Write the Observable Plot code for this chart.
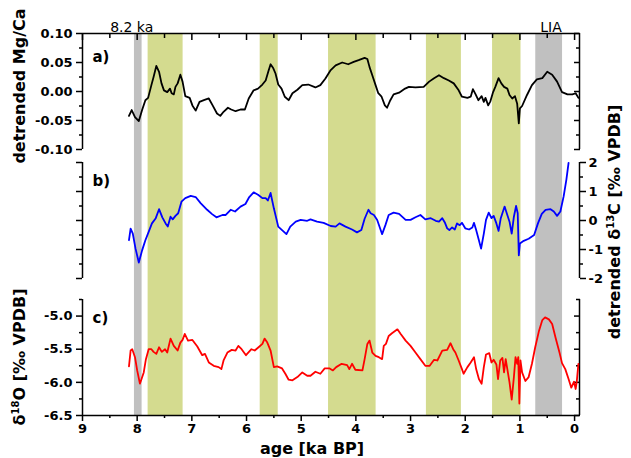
<!DOCTYPE html>
<html><head><meta charset="utf-8">
<script src="https://cdn.jsdelivr.net/npm/d3@7"></script>
<script src="https://cdn.jsdelivr.net/npm/@observablehq/plot@0.6"></script>
<style>
body{margin:0;background:#fff;}
#chart{position:relative;width:631px;height:458px;overflow:hidden;font-family:"DejaVu Sans",sans-serif;color:#000;}
#chart svg{position:absolute;left:0;}
.ttl{position:absolute;font-weight:bold;font-size:16px;white-space:nowrap;line-height:1;}
.rot{transform:translate(-50%,-50%) rotate(-90deg);}
.ttl sup{font-size:10px;vertical-align:6px;line-height:0;}
</style>
</head><body>
<div id="chart">
  <div class="ttl rot" style="left:20px;top:86px;">detrended Mg/Ca</div>
  <div class="ttl rot" style="left:20px;top:357px;">&delta;<sup>18</sup>O [&permil; VPDB]</div>
  <div class="ttl rot" style="left:615px;top:222px;">detrended &delta;<sup>13</sup>C [&permil; VPDB]</div>
  <div class="ttl" style="left:312px;top:441px;transform:translate(-50%,0);">age [ka BP]</div>
</div>
<script>
// ---- data (age in ka BP, value) ----
const mgCa = [
[8.15,-0.042],[8.10,-0.032],[8.04,-0.044],[7.97,-0.051],[7.91,-0.032],[7.85,-0.015],[7.80,-0.011],[7.74,0.011],[7.70,0.025],[7.65,0.044],[7.60,0.034],[7.555,0.014],[7.51,0.002],[7.45,-0.001],[7.40,0.005],[7.37,-0.003],[7.33,-0.005],[7.30,0.008],[7.26,0.014],[7.21,0.029],[7.17,0.017],[7.12,-0.008],[7.04,-0.011],[6.99,-0.024],[6.93,-0.033],[6.86,-0.018],[6.78,-0.015],[6.69,-0.012],[6.62,-0.024],[6.54,-0.038],[6.48,-0.042],[6.42,-0.035],[6.34,-0.028],[6.28,-0.031],[6.20,-0.034],[6.11,-0.031],[6.03,-0.031],[5.96,-0.012],[5.87,0.002],[5.79,0.005],[5.71,0.012],[5.65,0.019],[5.60,0.035],[5.56,0.047],[5.51,0.040],[5.47,0.031],[5.42,0.012],[5.36,0.005],[5.30,-0.009],[5.23,-0.015],[5.16,-0.003],[5.07,0.003],[4.98,0.011],[4.87,0.012],[4.74,0.007],[4.65,0.011],[4.56,0.022],[4.46,0.037],[4.37,0.045],[4.25,0.050],[4.14,0.047],[4.04,0.051],[3.95,0.054],[3.84,0.058],[3.79,0.056],[3.75,0.042],[3.70,0.028],[3.64,0.011],[3.59,-0.003],[3.53,-0.009],[3.47,-0.024],[3.43,-0.028],[3.37,-0.015],[3.31,-0.005],[3.21,-0.002],[3.10,0.005],[3.03,0.008],[2.91,0.007],[2.76,0.008],[2.66,0.017],[2.57,0.023],[2.48,0.028],[2.39,0.023],[2.30,0.019],[2.21,0.014],[2.12,0.002],[2.06,-0.009],[1.96,-0.011],[1.90,-0.009],[1.86,0.004],[1.81,-0.005],[1.76,-0.015],[1.70,-0.008],[1.66,-0.018],[1.63,-0.011],[1.58,-0.024],[1.54,-0.017],[1.49,-0.001],[1.45,0.008],[1.39,0.023],[1.34,0.014],[1.29,0.008],[1.23,0.005],[1.19,-0.006],[1.14,-0.012],[1.09,-0.008],[1.05,-0.021],[1.02,-0.055],[1.00,-0.029],[0.96,-0.025],[0.87,-0.006],[0.78,0.011],[0.69,0.021],[0.59,0.023],[0.50,0.034],[0.41,0.029],[0.32,0.017],[0.23,-0.001],[0.13,-0.005],[0.04,-0.005],[-0.02,-0.003],[-0.07,-0.011]
];
const d13C = [
[8.15,-0.68],[8.12,-0.28],[8.08,-0.45],[8.03,-0.97],[7.97,-1.45],[7.91,-1.03],[7.85,-0.68],[7.79,-0.39],[7.73,-0.10],[7.66,0.08],[7.60,0.39],[7.54,0.11],[7.48,-0.10],[7.44,-0.21],[7.39,0.13],[7.35,0.04],[7.30,0.16],[7.25,0.25],[7.19,0.65],[7.12,0.77],[7.02,0.85],[6.93,0.81],[6.84,0.60],[6.72,0.37],[6.63,0.22],[6.55,0.11],[6.44,0.19],[6.38,0.19],[6.29,0.37],[6.21,0.31],[6.11,0.48],[6.02,0.57],[5.95,0.81],[5.87,0.97],[5.79,0.89],[5.71,0.77],[5.65,0.77],[5.61,0.69],[5.56,0.95],[5.50,0.42],[5.42,-0.21],[5.35,-0.33],[5.27,-0.47],[5.20,-0.21],[5.10,-0.04],[5.01,0.02],[4.89,-0.01],[4.83,0.04],[4.71,-0.04],[4.59,-0.08],[4.46,-0.19],[4.37,-0.21],[4.30,-0.10],[4.19,-0.21],[4.07,-0.31],[3.98,-0.41],[3.90,-0.33],[3.84,0.06],[3.77,0.37],[3.73,0.25],[3.67,0.19],[3.61,0.02],[3.55,-0.31],[3.52,-0.47],[3.46,-0.16],[3.40,0.19],[3.31,0.27],[3.21,0.23],[3.09,0.02],[3.00,0.02],[2.91,0.11],[2.82,0.19],[2.73,0.04],[2.63,0.08],[2.54,-0.01],[2.48,-0.04],[2.42,0.08],[2.37,-0.08],[2.33,-0.27],[2.29,-0.33],[2.24,-0.24],[2.19,-0.31],[2.15,-0.10],[2.10,-0.16],[2.06,-0.08],[2.00,-0.27],[1.93,-0.31],[1.87,-0.24],[1.84,-0.08],[1.80,-0.33],[1.75,-0.68],[1.71,-0.97],[1.66,-0.45],[1.62,0.02],[1.57,0.27],[1.52,0.08],[1.48,0.16],[1.43,-0.10],[1.39,-0.36],[1.35,0.08],[1.31,0.31],[1.28,0.48],[1.23,0.19],[1.19,-0.04],[1.15,-0.45],[1.11,0.13],[1.07,0.50],[1.04,0.25],[1.02,-1.20],[1.00,-0.79],[0.93,-0.70],[0.84,-0.63],[0.74,-0.50],[0.67,-0.10],[0.60,0.23],[0.53,0.37],[0.44,0.39],[0.38,0.31],[0.32,0.16],[0.26,0.31],[0.20,0.83],[0.15,1.41],[0.11,1.99]
];
const d18O = [
[8.15,-5.76],[8.12,-5.52],[8.09,-5.50],[8.04,-5.62],[8.00,-5.82],[7.95,-6.02],[7.92,-5.95],[7.88,-5.85],[7.84,-5.65],[7.79,-5.50],[7.74,-5.50],[7.70,-5.54],[7.65,-5.57],[7.60,-5.47],[7.55,-5.54],[7.49,-5.50],[7.45,-5.55],[7.39,-5.34],[7.33,-5.45],[7.26,-5.52],[7.21,-5.40],[7.17,-5.36],[7.13,-5.27],[7.07,-5.37],[6.99,-5.36],[6.90,-5.46],[6.81,-5.59],[6.76,-5.57],[6.69,-5.70],[6.60,-5.75],[6.51,-5.77],[6.46,-5.80],[6.42,-5.67],[6.35,-5.55],[6.27,-5.51],[6.20,-5.52],[6.15,-5.45],[6.09,-5.50],[6.01,-5.59],[5.91,-5.50],[5.85,-5.52],[5.78,-5.47],[5.71,-5.42],[5.67,-5.34],[5.62,-5.40],[5.56,-5.52],[5.50,-5.77],[5.44,-5.76],[5.35,-5.79],[5.29,-5.87],[5.23,-5.96],[5.16,-5.97],[5.07,-5.92],[4.98,-5.85],[4.89,-5.90],[4.83,-5.90],[4.74,-5.84],[4.65,-5.87],[4.57,-5.79],[4.48,-5.79],[4.42,-5.82],[4.36,-5.77],[4.26,-5.72],[4.16,-5.74],[4.12,-5.80],[4.07,-5.72],[4.01,-5.81],[3.88,-5.82],[3.84,-5.65],[3.79,-5.42],[3.75,-5.37],[3.70,-5.55],[3.64,-5.60],[3.58,-5.62],[3.52,-5.65],[3.49,-5.45],[3.45,-5.42],[3.40,-5.30],[3.34,-5.26],[3.24,-5.20],[3.18,-5.27],[3.09,-5.37],[3.00,-5.45],[2.91,-5.55],[2.82,-5.65],[2.73,-5.75],[2.65,-5.75],[2.57,-5.66],[2.51,-5.67],[2.42,-5.52],[2.33,-5.51],[2.27,-5.41],[2.22,-5.50],[2.18,-5.55],[2.12,-5.67],[2.06,-5.80],[2.03,-5.87],[1.96,-5.77],[1.90,-5.70],[1.84,-5.62],[1.80,-5.80],[1.75,-5.95],[1.70,-6.02],[1.66,-5.77],[1.62,-5.58],[1.56,-5.56],[1.52,-5.70],[1.48,-5.66],[1.43,-5.73],[1.40,-5.95],[1.36,-5.67],[1.32,-5.63],[1.29,-5.85],[1.26,-5.65],[1.23,-5.80],[1.19,-6.00],[1.15,-6.26],[1.11,-5.92],[1.08,-5.62],[1.05,-5.72],[1.03,-5.62],[1.01,-6.32],[0.99,-5.67],[0.96,-5.85],[0.90,-5.98],[0.84,-5.92],[0.78,-5.72],[0.72,-5.47],[0.65,-5.22],[0.59,-5.06],[0.54,-5.02],[0.47,-5.05],[0.41,-5.12],[0.35,-5.32],[0.27,-5.57],[0.23,-5.71],[0.17,-5.80],[0.11,-5.95],[0.06,-6.08],[0.01,-5.99],[-0.02,-6.10],[-0.04,-5.99],[-0.07,-5.72]
];
// shaded intervals (ka BP)
const greenBands = [[7.80,7.16],[5.75,5.42],[4.50,3.63],[2.71,2.07],[1.50,0.98]];
const grayBands = [[8.05,7.91],[0.71,0.22]];
const bandLabels = [{label:"8.2 ka", age:8.10},{label:"LIA", age:0.43}];
const panelLabels = ["a)","b)","c)"];
// axes
const xDomain = [9, -0.09];
const xMajor = [9,8,7,6,5,4,3,2,1,0];
const xMinor = [8.5,7.5,6.5,5.5,4.5,3.5,2.5,1.5,0.5];
const mgDomain = [-0.1, 0.1];
const mgMajor = [0.10,0.05,0.00,-0.05,-0.10];
const mgMinor = [0.075,0.025,-0.025,-0.075];
const cDomain = [-2, 2];
const cMajor = [2,1,0,-1,-2];
const cMinor = [1.5,0.5,-0.5,-1.5];
const oDomain = [-6.5, -4.75];
const oMajor = [-5.0,-5.5,-6.0,-6.5];
const oMinor = [-4.75,-5.25,-5.75,-6.25];

const W = 631, ML = 82, MR = 52;
const baseStyle = {background:"transparent", fontFamily:"DejaVu Sans, sans-serif", fontSize:"13px", fontWeight:"bold", overflow:"visible", color:"#000"};
const SW = 1.5;
const chart = document.getElementById("chart");
function place(svg, top){ svg.style.top = top + "px"; svg.style.position = "absolute"; chart.appendChild(svg); }
const ax = (v) => v[0], ay = (v) => v[1];

// background bands
place(Plot.plot({
  width: W, height: 458, marginTop: 33, marginBottom: 43, marginLeft: ML, marginRight: MR,
  x: {domain: xDomain, axis: null}, style: baseStyle,
  marks: [
    Plot.rect(greenBands, {x1: ax, x2: ay, fill: "#d4db8f"}),
    Plot.rect(grayBands, {x1: ax, x2: ay, fill: "#c0c0c0"}),
    Plot.text(bandLabels, {x: "age", text: "label", frameAnchor: "top", dy: -2, lineAnchor: "bottom", fontSize: 14, fontWeight: "normal"})
  ]
}), 0);

// panel a
place(Plot.plot({
  width: W, height: 155, marginTop: 33, marginBottom: 6, marginLeft: ML, marginRight: MR,
  x: {domain: xDomain, axis: null}, y: {domain: mgDomain, axis: null}, style: baseStyle,
  marks: [
    Plot.ruleX([xDomain[0], xDomain[1]], {strokeWidth: SW}),
    Plot.ruleY([mgDomain[1]], {strokeWidth: SW}),
    Plot.axisX({anchor: "top", ticks: xMajor, tickSize: -6, fill: "none", strokeWidth: SW, label: null}),
    Plot.axisX({anchor: "top", ticks: xMinor, tickSize: -4, fill: "none", strokeWidth: SW, label: null}),
    Plot.axisY({anchor: "left", ticks: mgMajor, tickSize: 6, tickPadding: 4, tickFormat: d => d.toFixed(2), strokeWidth: SW, label: null}),
    Plot.axisY({anchor: "left", ticks: mgMinor, tickSize: 3, fill: "none", strokeWidth: SW, label: null}),
    Plot.axisY({anchor: "right", ticks: mgMajor, tickSize: -6, fill: "none", strokeWidth: SW, label: null}),
    Plot.axisY({anchor: "right", ticks: mgMinor, tickSize: -4, fill: "none", strokeWidth: SW, label: null}),
    Plot.line(mgCa, {x: ax, y: ay, stroke: "#000", strokeWidth: 1.8}),
    Plot.text([panelLabels[0]], {text: d => d, frameAnchor: "top-left", dx: 10, dy: 18, textAnchor: "start", fontSize: 15})
  ]
}), 0);

// panel b
place(Plot.plot({
  width: W, height: 134, marginTop: 12, marginBottom: 6, marginLeft: ML, marginRight: MR,
  x: {domain: xDomain, axis: null}, y: {domain: cDomain, axis: null}, style: baseStyle,
  marks: [
    Plot.ruleX([xDomain[0], xDomain[1]], {strokeWidth: SW}),
    Plot.axisY({anchor: "left", ticks: cMajor, tickSize: 6, fill: "none", strokeWidth: SW, label: null}),
    Plot.axisY({anchor: "left", ticks: cMinor, tickSize: 3, fill: "none", strokeWidth: SW, label: null}),
    Plot.axisY({anchor: "right", ticks: cMajor, tickSize: 6, tickPadding: 3, tickFormat: d => String(d), strokeWidth: SW, label: null}),
    Plot.axisY({anchor: "right", ticks: cMinor, tickSize: 3, fill: "none", strokeWidth: SW, label: null}),
    Plot.line(d13C, {x: ax, y: ay, stroke: "#0000ff", strokeWidth: 1.8}),
    Plot.text([panelLabels[1]], {text: d => d, frameAnchor: "top-left", dx: 10, dy: 13, textAnchor: "start", fontSize: 15})
  ]
}), 150);

// panel c
place(Plot.plot({
  width: W, height: 173, marginTop: 14, marginBottom: 43, marginLeft: ML, marginRight: MR,
  x: {domain: xDomain, axis: null}, y: {domain: oDomain, axis: null}, style: baseStyle,
  marks: [
    Plot.ruleX([xDomain[0], xDomain[1]], {strokeWidth: SW}),
    Plot.ruleY([oDomain[0]], {strokeWidth: SW}),
    Plot.axisX({anchor: "bottom", ticks: xMajor, tickSize: 6, tickPadding: 2, tickFormat: d => String(d), strokeWidth: SW, label: null}),
    Plot.axisX({anchor: "bottom", ticks: xMinor, tickSize: 3, fill: "none", strokeWidth: SW, label: null}),
    Plot.axisY({anchor: "left", ticks: oMajor, tickSize: 6, tickPadding: 4, tickFormat: d => d.toFixed(1), strokeWidth: SW, label: null}),
    Plot.axisY({anchor: "left", ticks: oMinor, tickSize: 3, fill: "none", strokeWidth: SW, label: null}),
    Plot.axisY({anchor: "right", ticks: oMajor, tickSize: -6, fill: "none", strokeWidth: SW, label: null}),
    Plot.axisY({anchor: "right", ticks: oMinor, tickSize: -4, fill: "none", strokeWidth: SW, label: null}),
    Plot.line(d18O, {x: ax, y: ay, stroke: "#ff0000", strokeWidth: 1.8}),
    Plot.text([panelLabels[2]], {text: d => d, frameAnchor: "top-left", dx: 10, dy: 13, textAnchor: "start", fontSize: 15})
  ]
}), 285);
</script>
</body></html>
